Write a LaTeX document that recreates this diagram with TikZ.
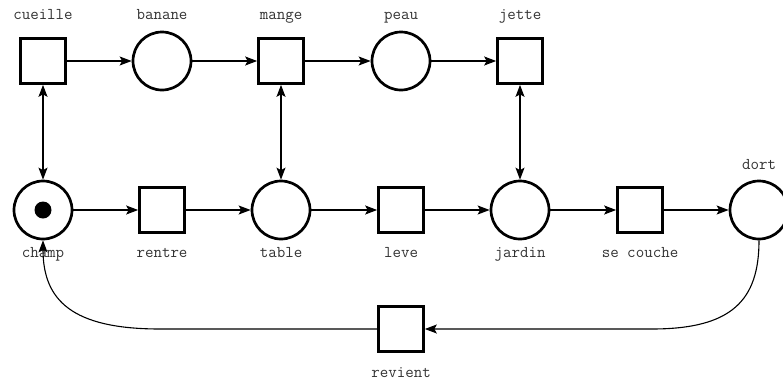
\documentclass[tikz,border=0pt]{standalone}
\usetikzlibrary{arrows.meta,calc}
\begin{document}
\begin{tikzpicture}[x=1pt,y=-1pt,
  trans/.style={draw,line width=2.7pt,minimum size=45pt,inner sep=0pt,shape=rectangle},
  place/.style={draw,line width=2.7pt,minimum size=58pt,inner sep=0pt,shape=circle},
  lbl/.style={font=\ttfamily\fontsize{16.5}{16.5}\selectfont,text=black!80,anchor=base,inner sep=0pt},
  arc/.style={line width=1.3pt,-{Stealth[length=12pt,width=9pt,inset=2.5pt]}},
  barc/.style={line width=1.3pt,{Stealth[length=12pt,width=9pt,inset=2.5pt]}-{Stealth[length=12pt,width=9pt,inset=2.5pt]}},
  carc/.style={line width=1.1pt,-{Stealth[length=12pt,width=9pt,inset=2.5pt]}}]
\useasboundingbox (0,0) rectangle (783,383);
% top row
\node[trans] (cueille) at (43,61) {};
\node[place] (banane) at (162,61) {};
\node[trans] (mange) at (281,61) {};
\node[place] (peau) at (401,61) {};
\node[trans] (jette) at (520,61) {};
% bottom row
\node[place] (champ) at (43,210) {};
\node[circle,fill=black,minimum size=17pt,inner sep=0pt] (token) at (champ) {};
\node[trans] (rentre) at (162,210) {};
\node[place] (table) at (281,210) {};
\node[trans] (leve) at (401,210) {};
\node[place] (jardin) at (520,210) {};
\node[trans] (secouche) at (640,210) {};
\node[place] (dort) at (759,210) {};
\node[trans] (revient) at (401,329) {};
% labels
\node[lbl] (l-cueille) at (43,19) {cueille};
\node[lbl] (l-banane) at (162,19) {banane};
\node[lbl] (l-mange) at (281,19) {mange};
\node[lbl] (l-peau) at (401,19) {peau};
\node[lbl] (l-jette) at (520,19) {jette};
\node[lbl] (l-champ) at (43,257) {champ};
\node[lbl] (l-rentre) at (162,257) {rentre};
\node[lbl] (l-table) at (281,257) {table};
\node[lbl] (l-leve) at (401,257) {leve};
\node[lbl] (l-jardin) at (520,257) {jardin};
\node[lbl] (l-secouche) at (640,257) {se couche};
\node[lbl] (l-dort) at (759,169) {dort};
\node[lbl] (l-revient) at (401,377) {revient};
% arcs
\draw[arc] (cueille) -- (banane);
\draw[arc] (banane) -- (mange);
\draw[arc] (mange) -- (peau);
\draw[arc] (peau) -- (jette);
\draw[barc] (cueille) -- (champ);
\draw[barc] (mange) -- (table);
\draw[barc] (jette) -- (jardin);
\draw[arc] (champ) -- (rentre);
\draw[arc] (rentre) -- (table);
\draw[arc] (table) -- (leve);
\draw[arc] (leve) -- (jardin);
\draw[arc] (jardin) -- (secouche);
\draw[arc] (secouche) -- (dort);
\draw[carc] (dort.south) .. controls +(0,60) and +(80,0) .. ($(revient.east |- revient)+(227,0)$) -- (revient.east);
\draw[carc] (revient.west) -- ($(champ.south |- revient)+(117,0)$) .. controls +(-88,0) and +(0,60) .. (champ.south);
\end{tikzpicture}
\end{document}
